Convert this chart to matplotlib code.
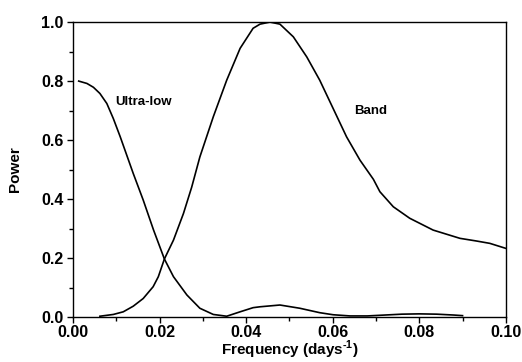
import matplotlib
matplotlib.use("Agg")
import matplotlib.pyplot as plt
from matplotlib.ticker import MultipleLocator

plt.rcParams['font.family'] = ['Liberation Sans', 'DejaVu Sans']
plt.rcParams['font.weight'] = 'bold'
plt.rcParams['mathtext.fontset'] = 'custom'
plt.rcParams['mathtext.rm'] = 'Liberation Sans:bold'
plt.rcParams['mathtext.bf'] = 'Liberation Sans:bold'

ultra_x = [0.0013, 0.0032, 0.0047, 0.0062, 0.0078, 0.0093, 0.0109, 0.0124, 0.0139, 0.0162,
           0.0186, 0.0211, 0.0232, 0.0263, 0.0293, 0.0324, 0.0355, 0.0386, 0.0416, 0.0432,
           0.0478, 0.0524, 0.0570, 0.0601, 0.0640, 0.0680, 0.0720, 0.0760, 0.0800, 0.0840,
           0.0880, 0.0900]
ultra_y = [0.800, 0.792, 0.779, 0.758, 0.724, 0.673, 0.611, 0.549, 0.487, 0.397,
           0.295, 0.197, 0.137, 0.075, 0.030, 0.009, 0.003, 0.018, 0.032, 0.035,
           0.041, 0.030, 0.015, 0.008, 0.004, 0.004, 0.007, 0.010, 0.011, 0.010,
           0.007, 0.005]

band_x = [0.0062, 0.0093, 0.0116, 0.0139, 0.0162, 0.0185, 0.0197, 0.0211, 0.0232, 0.0255,
          0.0274, 0.0293, 0.0324, 0.0355, 0.0386, 0.0416, 0.0432, 0.0455, 0.0478, 0.0509,
          0.0540, 0.0570, 0.0601, 0.0632, 0.0663, 0.0694, 0.0709, 0.0740, 0.0778, 0.0832,
          0.0894, 0.0932, 0.0963, 0.1000]
band_y = [0.003, 0.009, 0.018, 0.037, 0.063, 0.103, 0.137, 0.197, 0.261, 0.351,
          0.440, 0.543, 0.679, 0.803, 0.911, 0.979, 0.993, 1.000, 0.993, 0.950,
          0.882, 0.803, 0.707, 0.611, 0.532, 0.467, 0.425, 0.374, 0.335, 0.295,
          0.267, 0.258, 0.250, 0.233]

xticks = [0.00, 0.02, 0.04, 0.06, 0.08, 0.10]
yticks = [0.0, 0.2, 0.4, 0.6, 0.8, 1.0]

fig = plt.figure(figsize=(5.22, 3.62), dpi=100)
ax = fig.add_axes([0.14, 0.124, 0.829, 0.815])

ax.plot(ultra_x, ultra_y, color='black', lw=1.2, solid_joinstyle='round')
ax.plot(band_x, band_y, color='black', lw=1.2, solid_joinstyle='round')

ax.set_xlim(0, 0.1)
ax.set_ylim(0, 1.0)
ax.set_xticks(xticks)
ax.set_xticklabels([f"{v:.2f}" for v in xticks])
ax.set_yticks(yticks)
ax.set_yticklabels([f"{v:.1f}" for v in yticks])
ax.xaxis.set_minor_locator(MultipleLocator(0.01))
ax.yaxis.set_minor_locator(MultipleLocator(0.1))
ax.tick_params(which='both', direction='out', width=1, labelsize=11.5)
ax.tick_params(axis='x', pad=2)
ax.tick_params(axis='y', pad=3)
ax.tick_params(which='major', length=4)
ax.tick_params(which='minor', length=3)
for s in ax.spines.values():
    s.set_linewidth(1.0)

ax.set_xlabel('Frequency (days$^{\\text{-1}}$)', fontsize=11, fontweight='bold', labelpad=-1)
ax.set_ylabel('Power', fontsize=11, fontweight='bold', labelpad=14)

ax.text(0.0162, 0.73, 'Ultra-low', fontsize=9.5, fontweight='bold', ha='center', va='center')
ax.text(0.0688, 0.70, 'Band', fontsize=9.5, fontweight='bold', ha='center', va='center')

fig.savefig('out.png', dpi=100)
